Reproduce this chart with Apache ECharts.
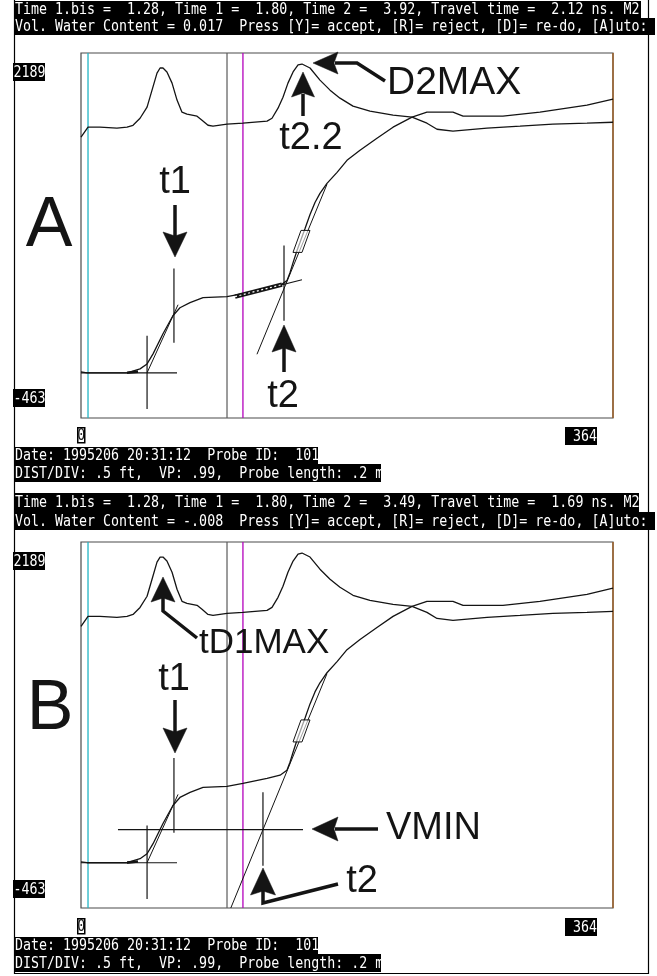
<!DOCTYPE html>
<html><head><meta charset="utf-8">
<script src="https://cdn.jsdelivr.net/npm/echarts@6/dist/echarts.min.js"></script>
<style>html,body{margin:0;padding:0;background:#fff;}#c{width:657px;height:976px;}</style>
</head><body><div id="c"></div>
<script>
// ---- axis ranges / tick labels ----
const xRange = [0, 364];
const yRange = [-463, 2189];
const xTickLabels = ['0', '364'];
const yTickLabels = ['2189', '-463'];

// ---- traces (same acquisition shown in both panels) ----
const waveform = [[0,-128],[4.1,-135],[31.5,-135],[40.4,-106],[45.2,-70],[49.3,3],[56.1,149],[62.9,280],[67.7,338],[74.6,375],[83.5,411],[99.9,419],[110.8,440],[127.3,477],[136.2,499],[140.9,535],[143,593],[145.1,666],[147.8,754],[149.8,812],[153.3,914],[156.7,1016],[160.1,1103],[163.5,1169],[168.3,1242],[175.2,1322],[182,1409],[190.9,1482],[202.5,1570],[213.5,1650],[226.5,1723],[236.7,1759],[254.5,1759],[261.4,1730],[288.7,1730],[314,1759],[346.2,1810],[364,1854]];
const derivative = [[0,1577],[4.8,1650],[13,1650],[24.6,1643],[31.5,1650],[35.6,1664],[40.4,1715],[45.2,1796],[48.6,1919],[52,2043],[54.1,2080],[56.1,2080],[58.8,2051],[62.3,1970],[65.7,1847],[69.1,1759],[72.5,1745],[79.4,1730],[82.8,1701],[86.9,1664],[90.3,1657],[99.9,1672],[110.8,1679],[127.3,1694],[130.7,1715],[134.8,1788],[138.2,1868],[141.6,1970],[145.1,2051],[148.5,2102],[151.2,2109],[156.7,2080],[163.5,1992],[170.4,1919],[177.2,1861],[186.1,1803],[197.7,1766],[213.5,1737],[226.5,1723],[236.7,1679],[243.6,1635],[254.5,1621],[277.8,1643],[300.4,1657],[322.9,1672],[346.2,1679],[364,1686]];

// ---- cursors ----
const cursorCyan = 4.8, cursorGray = 99.9, cursorMagenta = 110.8;

// ---- fitted lines / markers ----
const baseTangent = [[0,-135],[65.7,-135]];
const baseFit = [[31.5,-134],[39,-126]];
const riseTangent = [[45.2,-135],[66.4,360]];
const vT1bis = [[45.2,134],[45.2,-397]];
const vT1 = [[63.6,623],[63.6,83]];
const midTangentA = [[105.4,419],[151.2,542]];
const midFitA = [[105.4,419],[137.5,506]];
const steepTangentA = [[120.4,0],[168.3,1235]];
const vT2A = [[138.9,790],[138.9,244]];
const vminB = [[25.3,105],[151.9,105]];
const steepTangentB = [[102.5,-463],[168.3,1235]];
const vT2B = [[124.5,375],[124.5,-157]];
const steepMarker = [151.2, 820];

// ---- texts ----
const headerA = ['Time 1.bis =  1.28, Time 1 =  1.80, Time 2 =  3.92, Travel time =  2.12 ns. M2',
                 'Vol. Water Content = 0.017  Press [Y]= accept, [R]= reject, [D]= re-do, [A]uto:'];
const headerB = ['Time 1.bis =  1.28, Time 1 =  1.80, Time 2 =  3.49, Travel time =  1.69 ns. M2',
                 'Vol. Water Content = -.008  Press [Y]= accept, [R]= reject, [D]= re-do, [A]uto:'];
const footer = ['Date: 1995206 20:31:12  Probe ID:  101', 'DIST/DIV: .5 ft,  VP: .99,  Probe length: .2 m'];

const chart = echarts.init(document.getElementById('c'), null, {renderer: 'canvas'});
const INK = '#141414';
const MONO = '13.3px "DejaVu Sans Mono"';
const SANS = '"Liberation Sans", Arial, sans-serif';

function seg(gi, pts, o) {
  o = o || {};
  return {type: 'line', xAxisIndex: gi, yAxisIndex: gi, data: pts, showSymbol: false, symbol: 'none',
    silent: true, animation: false, clip: o.clip !== false, z: o.z || 3,
    lineStyle: {color: o.color || INK, width: o.width || 1, type: o.type || 'solid', cap: 'butt'}};
}
function panelSeries(gi) {
  const s = [
    seg(gi, [[cursorCyan, yRange[0]], [cursorCyan, yRange[1]]], {color: '#22b4c4', width: 1.3, z: 2}),
    seg(gi, [[cursorGray, yRange[0]], [cursorGray, yRange[1]]], {color: '#5a5a5a', width: 1.2, z: 2}),
    seg(gi, [[cursorMagenta, yRange[0]], [cursorMagenta, yRange[1]]], {color: '#b400bc', width: 1.3, z: 2}),
    seg(gi, [[xRange[1], yRange[0]], [xRange[1], yRange[1]]], {color: '#a0642c', width: 1.5, clip: false, z: 2}),
    seg(gi, waveform, {width: 1.3}),
    seg(gi, derivative, {width: 1.3}),
    seg(gi, baseTangent, {width: 1.2}),
    seg(gi, baseFit, {width: 2.6}),
    seg(gi, riseTangent, {width: 1}),
    seg(gi, vT1bis, {width: 1.2}),
    seg(gi, vT1, {width: 1.2})
  ];
  if (gi === 0) {
    s.push(seg(0, midTangentA, {width: 1.1}), seg(0, midFitA, {width: 4.2}),
           seg(0, midFitA, {width: 1.2, color: '#ffffff', type: [2, 2.5], z: 4}),
           seg(0, steepTangentA, {width: 1}), seg(0, vT2A, {width: 1.2}));
  } else {
    s.push(seg(1, vminB, {width: 1.3}), seg(1, steepTangentB, {width: 1}), seg(1, vT2B, {width: 1.2}));
  }
  return s;
}

const axX = gi => ({type: 'value', gridIndex: gi, min: xRange[0], max: xRange[1], show: false});
const axY = gi => ({type: 'value', gridIndex: gi, min: yRange[0], max: yRange[1], show: false});

chart.setOption({
  animation: false,
  backgroundColor: '#ffffff',
  grid: [
    {left: 81, top: 53, width: 532, height: 365, show: true, borderColor: '#4a4a4a', borderWidth: 1.2, backgroundColor: 'transparent'},
    {left: 81, top: 542, width: 532, height: 366, show: true, borderColor: '#4a4a4a', borderWidth: 1.2, backgroundColor: 'transparent'}
  ],
  xAxis: [axX(0), axX(1)],
  yAxis: [axY(0), axY(1)],
  series: panelSeries(0).concat(panelSeries(1))
});

// ---------- graphic overlay ----------
const G = [];
function rect(x, y, w, h, fill, z) { G.push({type: 'rect', shape: {x, y, width: w, height: h}, style: {fill}, silent: true, z: z || 10}); }
function txt(t, x, y, o) {
  o = o || {};
  G.push({type: 'text', x: x, y: y, scaleY: o.sy || 1, silent: true, z: o.z || 12,
    style: {text: t, x: 0, y: 0, fill: o.fill || INK, font: o.font || MONO,
      align: o.align || 'left', textAlign: o.align || 'left',
      verticalAlign: 'middle', textVerticalAlign: 'middle'}});
}
function poly(pts, z) { G.push({type: 'polygon', shape: {points: pts}, style: {fill: INK, stroke: INK, lineWidth: 0.5}, silent: true, z: z || 11}); }
function pline(pts, w) { G.push({type: 'polyline', shape: {points: pts}, style: {stroke: INK, lineWidth: w || 3.5, fill: null, lineJoin: 'miter'}, silent: true, z: 11}); }
function barText(t, x0, x1, y0, y1) { rect(x0, y0, x1 - x0, y1 - y0, '#000'); txt(t, x0 + 1, (y0 + y1) / 2 + 0.5, {fill: '#fff', sy: 1.22}); }

// frame
G.push({type: 'polyline', shape: {points: [[14.5, 0], [14.5, 973.5], [648.5, 973.5], [648.5, 0]]}, style: {stroke: '#000', lineWidth: 1.2, fill: null}, silent: true, z: 1});

// headers
barText(headerA[0], 14, 641, 1, 18); barText(headerA[1], 14, 655, 18, 35);
barText(headerB[0], 14, 639, 493, 512); barText(headerB[1], 14, 655, 512, 530);
// footers
barText(footer[0], 14, 318, 447, 464); barText(footer[1], 14, 381, 464, 482);
barText(footer[0], 14, 318, 937, 954); barText(footer[1], 14, 381, 954, 972);

// tick labels
function tickLabels(yTop, yBot, xLab) {
  rect(13, yTop, 32, 18, '#000'); txt(yTickLabels[0], 13.5, yTop + 9.5, {fill: '#fff', sy: 1.22});
  rect(13, yBot, 32, 18, '#000'); txt(yTickLabels[1], 13.5, yBot + 9.5, {fill: '#fff', sy: 1.22});
  rect(77, xLab, 8.5, 16.5, '#000'); rect(78.5, xLab + 1.5, 5.5, 13.5, '#fff');
  txt(xTickLabels[0], 81.3, xLab + 8.5, {align: 'center', sy: 1.22});
  rect(565, xLab, 32, 18, '#000'); txt(xTickLabels[1], 597, xLab + 9.5, {fill: '#fff', align: 'right', sy: 1.22});
}
tickLabels(63, 389, 427);
tickLabels(552, 880, 918);

// steep-slope markers (parallelograms), placed through the axes
[0, 1].forEach(gi => {
  const c = chart.convertToPixel({gridIndex: gi}, steepMarker);
  G.push({type: 'polygon', shape: {points: [[c[0] - 1, c[1] - 11], [c[0] + 8, c[1] - 11], [c[0], c[1] + 11], [c[0] - 9, c[1] + 11]]},
    style: {fill: 'rgba(255,255,255,0.6)', stroke: INK, lineWidth: 1}, silent: true, z: 9});
});

// arrows
function headDown(x, tip, base, hw) { poly([[x, tip], [x - hw, base], [x, base + 4], [x + hw, base]]); }
function headUp(x, tip, base, hw) { poly([[x, tip], [x - hw, base], [x, base - 4], [x + hw, base]]); }
function headLeft(y, tip, base, hh) { poly([[tip, y], [base, y - hh], [base - 4, y], [base, y + hh]]); }

// Panel A
pline([[175, 205], [175, 236]]); headDown(175, 257, 232, 12);
pline([[284, 348], [284, 372]]); headUp(284, 325, 352, 12);
pline([[303, 94], [303, 116]]); headUp(303, 72, 97, 11.5);
pline([[335, 63], [357, 63], [385, 81]]); headLeft(63, 313, 338, 11);
// Panel B
pline([[163, 598], [163, 611], [197, 638]]); headUp(163, 577, 602, 12);
pline([[175, 700], [175, 732]]); headDown(175, 753, 728, 12);
pline([[335, 829], [378, 829]]); headLeft(829, 312, 338, 12);
pline([[263, 891], [263, 903], [338, 884]]); headUp(263, 868, 895, 12.5);

// annotation words
const big = '70px ' + SANS, lab = '38px ' + SANS;
txt('A', 49, 227, {font: big, align: 'center'});
txt('B', 50, 710, {font: big, align: 'center'});
txt('t1', 175, 183, {font: lab, align: 'center'});
txt('t2', 283, 397, {font: lab, align: 'center'});
txt('t2.2', 311, 139, {font: lab, align: 'center'});
txt('D2MAX', 387, 83, {font: '39px ' + SANS});
txt('tD1MAX', 199, 643, {font: '35px ' + SANS});
txt('t1', 174, 680, {font: lab, align: 'center'});
txt('VMIN', 386, 829, {font: lab});
txt('t2', 362, 882, {font: lab, align: 'center'});

chart.setOption({graphic: G});
</script></body></html>
